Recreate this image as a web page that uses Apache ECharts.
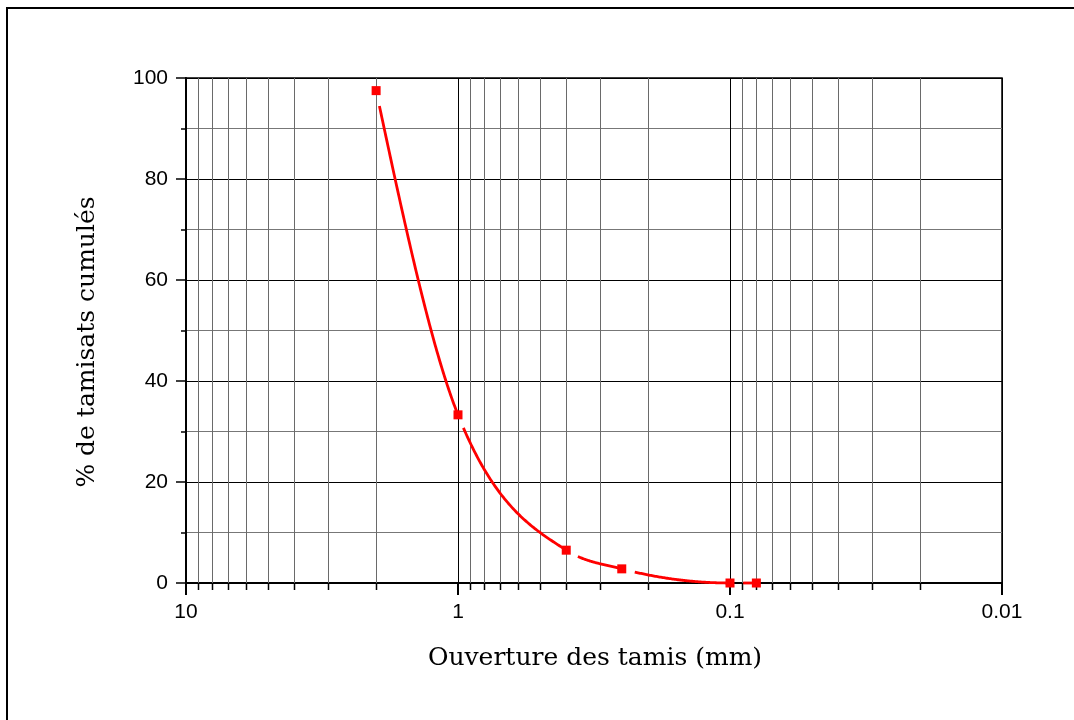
<!DOCTYPE html>
<html>
<head>
<meta charset="utf-8">
<script src="https://cdn.jsdelivr.net/npm/echarts@6/dist/echarts.min.js"></script>
<style>
html,body{margin:0;padding:0;background:#fff;}
#chart{width:1074px;height:720px;}
</style>
</head>
<body>
<div id="chart"></div>
<script>
// Sieve openings (mm) and cumulative passing (%)
const sieveSizes = [2, 1, 0.4, 0.25, 0.1, 0.08];
const passing = [97.5, 33.3, 6.5, 2.8, 0, 0];
// Axis tick labels / positions
const xDecades = [10, 1, 0.1, 0.01];
const xMinorTicks = [9, 8, 7, 6, 5, 4, 3, 2,
                     0.9, 0.8, 0.7, 0.6, 0.5, 0.4, 0.3, 0.2,
                     0.09, 0.08, 0.07, 0.06, 0.05, 0.04, 0.03, 0.02];
const yTicks = [0, 20, 40, 60, 80, 100];

const xTitle = 'Ouverture des tamis (mm)';
const yTitle = '% de tamisats cumulés';

const chart = echarts.init(document.getElementById('chart'), null, {renderer: 'canvas'});
const pts = sieveSizes.map((s, i) => [s, passing[i]]);

// Monotone cubic curve (in screen space) through the points mapped by the axes,
// with a small gap after each marker, like the original plot.
const GAP = 13;
function monoSlopes(P) {
  const n = P.length, m = new Array(n).fill(0);
  const h = [], s = [];
  for (let i = 0; i < n - 1; i++) {
    h.push(P[i+1][0] - P[i][0]);
    s.push((P[i+1][1] - P[i][1]) / h[i]);
  }
  for (let i = 1; i < n - 1; i++) {
    const s0 = s[i-1], s1 = s[i];
    const p = (s0 * h[i] + s1 * h[i-1]) / (h[i-1] + h[i]);
    m[i] = (Math.sign(s0) + Math.sign(s1)) * Math.min(Math.abs(s0), Math.abs(s1), 0.5 * Math.abs(p)) || 0;
  }
  m[0] = (3 * s[0] - m[1]) / 2;
  m[n-1] = (3 * s[n-2] - m[n-2]) / 2;
  return m;
}
function renderSegment(params, api) {
  const i = params.dataIndex;
  const P = pts.map(p => api.coord(p));
  const m = monoSlopes(P);
  const p0 = P[i], p1 = P[i + 1];
  const hh = (p1[0] - p0[0]) / 3;
  const c1 = [p0[0] + hh, p0[1] + hh * m[i]];
  const c2 = [p1[0] - hh, p1[1] - hh * m[i+1]];
  const steps = 100;
  const raw = [];
  for (let s = 0; s <= steps; s++) {
    const t = s / steps, u = 1 - t;
    raw.push([
      u*u*u*p0[0] + 3*u*u*t*c1[0] + 3*u*t*t*c2[0] + t*t*t*p1[0],
      u*u*u*p0[1] + 3*u*u*t*c1[1] + 3*u*t*t*c2[1] + t*t*t*p1[1]
    ]);
  }
  const out = [];
  let acc = 0;
  for (let s = 0; s < raw.length; s++) {
    if (s > 0) acc += Math.hypot(raw[s][0] - raw[s-1][0], raw[s][1] - raw[s-1][1]);
    if (acc >= GAP) out.push(raw[s]);
  }
  return {
    type: 'polyline',
    shape: {points: out},
    style: {stroke: '#ff0000', lineWidth: 2.8, fill: null, lineJoin: 'round'}
  };
}

const option = {
  animation: false,
  backgroundColor: '#fff',
  grid: {
    left: 186, right: 72, top: 78, bottom: 137,
    show: true, borderColor: '#000', borderWidth: 1.5, backgroundColor: 'transparent'
  },
  xAxis: {
    type: 'log',
    logBase: 10,
    min: xDecades[xDecades.length - 1],
    max: xDecades[0],
    inverse: true,
    axisLine: {show: true, onZero: false, lineStyle: {color: '#000', width: 2}},
    axisTick: {show: true, inside: false, length: 12, lineStyle: {color: '#000', width: 2}},
    axisLabel: {
      show: true, margin: 19, color: '#000', fontSize: 21, fontFamily: '"Liberation Sans", Arial, sans-serif',
      formatter: v => String(v)
    },
    splitLine: {show: true, lineStyle: {color: '#000', width: 1}},
    minorTick: {show: false},
    minorSplitLine: {show: false}
  },
  yAxis: {
    type: 'value',
    min: yTicks[0],
    max: yTicks[yTicks.length - 1],
    interval: 20,
    axisLine: {show: true, lineStyle: {color: '#000', width: 2}},
    axisTick: {show: true, inside: false, length: 10, lineStyle: {color: '#000', width: 1.5}},
    minorTick: {show: true, splitNumber: 2, length: 5, lineStyle: {color: '#000', width: 1.5}},
    axisLabel: {
      show: true, margin: 18, color: '#000', fontSize: 21, fontFamily: '"Liberation Sans", Arial, sans-serif'
    },
    splitLine: {show: true, lineStyle: {color: '#000', width: 1}},
    minorSplitLine: {show: true, lineStyle: {color: '#777', width: 1}}
  },
  series: [
    {
      type: 'custom',
      z: 1,
      clip: false,
      silent: true,
      data: xMinorTicks.map(v => [v, 0]),
      renderItem: function (params, api) {
        const v = api.value(0);
        const pb = api.coord([v, yTicks[0]]);
        const pt = api.coord([v, yTicks[yTicks.length - 1]]);
        const x = Math.round(pb[0]) + 0.5;
        return {
          type: 'group',
          children: [
            {type: 'line', shape: {x1: x, y1: pt[1], x2: x, y2: pb[1]},
             style: {stroke: '#6a6a6a', lineWidth: 1}},
            {type: 'line', shape: {x1: x, y1: pb[1], x2: x, y2: pb[1] + 7},
             style: {stroke: '#000', lineWidth: 1.5}}
          ]
        };
      }
    },
    {
      type: 'custom',
      z: 3,
      silent: true,
      clip: false,
      data: pts.slice(0, -1),
      renderItem: renderSegment
    },
    {
      type: 'scatter',
      z: 4,
      data: pts,
      symbol: 'rect',
      symbolSize: 9,
      itemStyle: {color: '#ff0000', opacity: 1},
      silent: true
    }
  ],
  graphic: [
    {type: 'rect', shape: {x: 7, y: 8, width: 1200, height: 900},
     style: {fill: 'none', stroke: '#000', lineWidth: 2}, z: 10, silent: true},
    {type: 'text', x: 595, y: 658, z: 10, silent: true,
     style: {text: xTitle, fill: '#000', font: '25px "DejaVu Serif", serif', textAlign: 'center', textVerticalAlign: 'middle'}},
    {type: 'text', x: 87, y: 342, rotation: Math.PI / 2, z: 10, silent: true,
     style: {text: yTitle, fill: '#000', font: '25px "DejaVu Serif", serif', textAlign: 'center', textVerticalAlign: 'middle'}}
  ]
};
chart.setOption(option);
</script>
</body>
</html>
